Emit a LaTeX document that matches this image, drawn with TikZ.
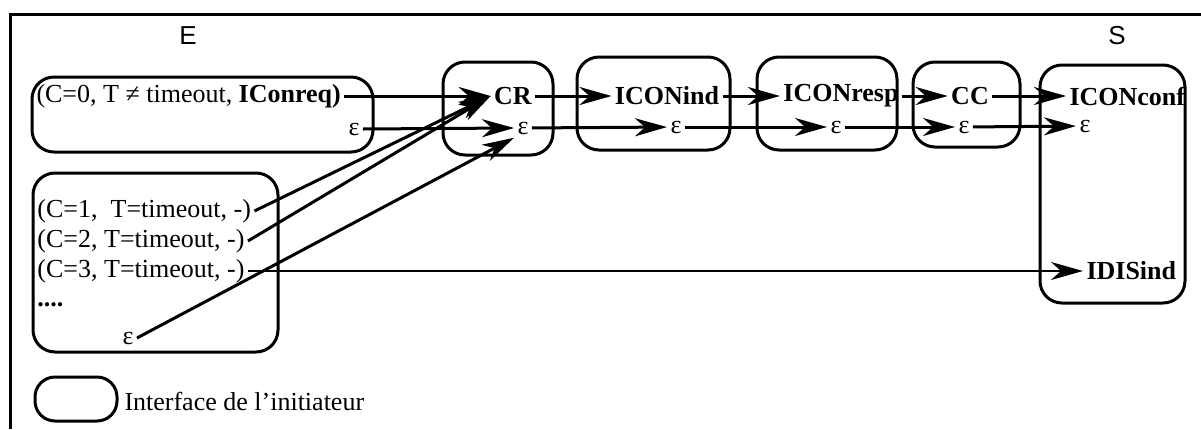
\documentclass[tikz,border=0pt]{standalone}
\usepackage{fontspec}
\setmainfont{Liberation Serif}
\setsansfont{Liberation Sans}
\usepackage{tikz}
\usetikzlibrary{arrows.meta}

\begin{document}
\begin{tikzpicture}[x=0.5pt,y=-0.5pt,line width=1.5pt,
    every node/.style={font=\fontsize{13}{15}\selectfont, inner sep=1pt},
    iface/.style={draw, rounded corners=11pt},
    trans/.style={-{Stealth[length=16pt,width=9pt,inset=5pt]}},
    side/.style={font=\sffamily\fontsize{13}{15}\selectfont}
]
\useasboundingbox (0,0) rectangle (1201,429);
\draw (10,429) -- (10,14) -- (1201,14);

\node[side] (E) at (188,36) {E};
\node[side] (S) at (1117,36) {S};

% interfaces
\draw[iface] (32,77) rectangle (373,152);
\draw[iface] (33,173) rectangle (278,352);
\draw[iface] (443,62) rectangle (553,155);
\draw[iface] (577,57) rectangle (730,150);
\draw[iface] (757,57) rectangle (897,150);
\draw[iface] (913,62) rectangle (1020,147);
\draw[iface] (1040,65) rectangle (1185,303);

\node[anchor=west] (c0) at (33,96) {(C=0, T ≠ timeout, \textbf{IConreq)}};
\node (e0) at (354,129) {ε};
\node[anchor=west] (c1) at (34,211) {(C=1,\ \ T=timeout, -)};
\node[anchor=west] (c2) at (34,241) {(C=2, T=timeout, -)};
\node[anchor=west] (c3) at (34,271) {(C=3, T=timeout, -)};
\node[anchor=base west] (dots) at (34,306) {\textbf{....}};
\node (e1) at (128,338) {ε};

\node (cr) at (513,96) {\textbf{CR}};
\node (ecr) at (523,128) {ε};
\node (ind) at (667,96) {\textbf{ICONind}};
\node (eind) at (676,127) {ε};
\node (resp) at (841,96) {\textbf{ICONresp}};
\node (eresp) at (836,127) {ε};
\node (cc) at (970,96) {\textbf{CC}};
\node (ecc) at (964,127) {ε};
\node[anchor=west] (conf) at (1066,96) {\textbf{ICONconf}};
\node[anchor=west] (es) at (1076,126) {ε};
\node[anchor=west] (dis) at (1083,271) {\textbf{IDISind}};

\draw[trans] (c0.east) -- (cr.west);
\draw[trans] (c1.east) -- (cr.west);
\draw[trans] (c2.east) -- (cr.west);
\draw[trans] (e0.east) -- (ecr.west);
\draw[trans] (e1.east) -- (ecr.south west);
\draw[trans] (cr) -- (ind);
\draw[trans] (ind) -- (resp);
\draw[trans] (resp) -- (cc);
\draw[trans] (cc) -- (conf);
\draw[trans] (ecr) -- (eind);
\draw[trans] (eind) -- (eresp);
\draw[trans] (eresp) -- (ecc);
\draw[trans] (ecc) -- (es);
\draw[trans,line width=1pt] (c3.east) -- (dis.west);

\draw[iface,rounded corners=10pt] (35,377) rectangle (117,421);
\node[anchor=west] (leg) at (121,401) {Interface de l'initiateur};
\end{tikzpicture}
\end{document}
